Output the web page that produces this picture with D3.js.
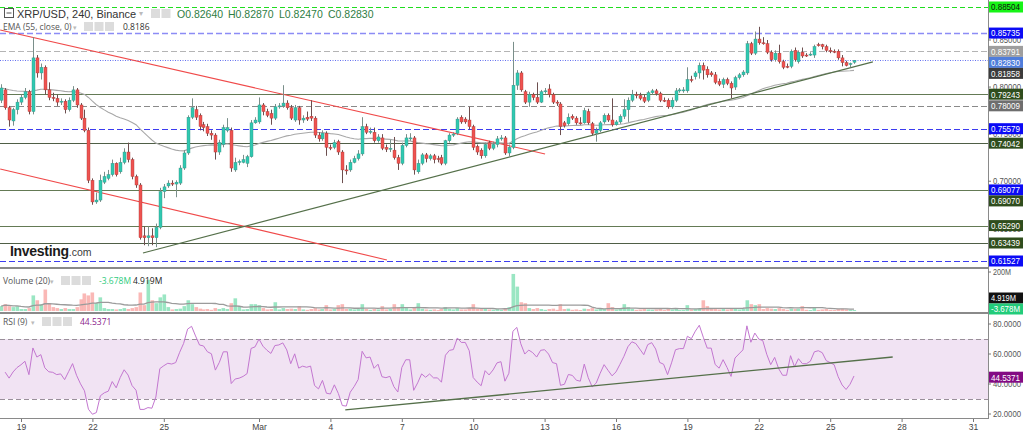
<!DOCTYPE html>
<html><head><meta charset="utf-8">
<script src="https://cdn.jsdelivr.net/npm/d3@7"></script>
<style>
html,body{margin:0;padding:0;background:#fff;overflow:hidden}
svg{display:block;font-family:"Open Sans","Liberation Sans",sans-serif}
</style></head><body>
<svg id="c" width="1024" height="432"></svg>
<script>
// ---------- DATA ----------
const symbolTitle = "XRP/USD, 240, Binance";
const lastOHLC = ["O0.82640", "H0.82870", "L0.82470", "C0.82830"];
const emaTitle = "EMA (55, close, 0)";
const emaValueText = "0.8186";
const volTitle = "Volume (20)";
const volValues = ["-3.678M", "4.919M"];
const rsiTitle = "RSI (9)";
const rsiValue = 44.5371;

// 4-hour candles [open, high, low, close], starting 2021-02-18 04:00
const candles = [
[0.786,0.803,0.783,0.799],[0.797,0.799,0.776,0.778],[0.778,0.780,0.758,0.765],[0.764,0.778,0.759,0.776],[0.776,0.787,0.771,0.784],
[0.784,0.792,0.781,0.789],[0.789,0.799,0.787,0.795],[0.795,0.797,0.771,0.774],[0.774,0.853,0.771,0.831],[0.831,0.834,0.810,0.815],
[0.815,0.825,0.808,0.821],[0.821,0.823,0.792,0.797],[0.797,0.805,0.786,0.789],[0.789,0.794,0.785,0.788],[0.788,0.792,0.780,0.784],
[0.784,0.788,0.781,0.785],[0.785,0.787,0.772,0.776],[0.776,0.789,0.774,0.786],[0.786,0.801,0.784,0.797],[0.797,0.799,0.778,0.781],
[0.781,0.783,0.765,0.767],[0.767,0.776,0.752,0.754],[0.754,0.757,0.698,0.701],[0.701,0.703,0.675,0.678],[0.678,0.688,0.676,0.680],
[0.680,0.707,0.678,0.701],[0.699,0.710,0.697,0.705],[0.703,0.712,0.701,0.707],[0.707,0.723,0.705,0.719],[0.719,0.720,0.705,0.707],
[0.710,0.725,0.708,0.720],[0.720,0.735,0.718,0.731],[0.731,0.741,0.720,0.723],[0.723,0.725,0.702,0.705],[0.705,0.707,0.693,0.696],
[0.696,0.698,0.638,0.640],[0.642,0.652,0.632,0.640],[0.640,0.652,0.631,0.642],[0.642,0.650,0.632,0.640],[0.640,0.655,0.630,0.651],
[0.651,0.693,0.649,0.689],[0.689,0.697,0.682,0.694],[0.695,0.701,0.693,0.698],[0.698,0.701,0.695,0.697],[0.697,0.701,0.683,0.699],
[0.698,0.717,0.696,0.714],[0.714,0.733,0.712,0.730],[0.730,0.770,0.728,0.768],[0.768,0.788,0.766,0.778],[0.776,0.780,0.765,0.768],
[0.770,0.772,0.754,0.758],[0.760,0.763,0.753,0.757],[0.758,0.761,0.748,0.751],[0.751,0.754,0.744,0.749],[0.749,0.751,0.723,0.731],
[0.731,0.744,0.728,0.741],[0.739,0.760,0.736,0.757],[0.754,0.767,0.752,0.757],[0.754,0.757,0.710,0.714],[0.712,0.725,0.710,0.720],
[0.720,0.723,0.717,0.721],[0.720,0.728,0.719,0.723],[0.719,0.728,0.715,0.726],[0.726,0.765,0.725,0.762],[0.762,0.768,0.761,0.765],
[0.763,0.789,0.761,0.781],[0.781,0.783,0.770,0.774],[0.774,0.777,0.768,0.770],[0.772,0.776,0.760,0.767],[0.767,0.782,0.765,0.779],
[0.779,0.783,0.777,0.780],[0.780,0.802,0.778,0.783],[0.783,0.786,0.776,0.778],[0.778,0.781,0.765,0.767],[0.765,0.781,0.763,0.778],
[0.778,0.780,0.760,0.765],[0.765,0.770,0.762,0.767],[0.768,0.774,0.764,0.766],[0.769,0.786,0.764,0.767],[0.767,0.769,0.746,0.749],
[0.749,0.752,0.742,0.745],[0.745,0.754,0.743,0.751],[0.751,0.753,0.727,0.736],[0.736,0.739,0.733,0.735],[0.736,0.744,0.734,0.741],
[0.742,0.744,0.728,0.731],[0.731,0.733,0.698,0.712],[0.712,0.717,0.707,0.711],[0.712,0.723,0.710,0.720],[0.720,0.727,0.719,0.724],
[0.724,0.733,0.722,0.729],[0.729,0.768,0.727,0.758],[0.758,0.761,0.750,0.752],[0.752,0.757,0.750,0.753],[0.752,0.757,0.741,0.743],
[0.743,0.750,0.741,0.747],[0.746,0.750,0.733,0.735],[0.736,0.739,0.731,0.734],[0.734,0.744,0.731,0.735],[0.733,0.747,0.723,0.725],
[0.725,0.728,0.712,0.719],[0.719,0.741,0.717,0.738],[0.738,0.750,0.736,0.746],[0.745,0.751,0.743,0.746],[0.746,0.748,0.707,0.712],
[0.710,0.723,0.708,0.719],[0.719,0.730,0.717,0.728],[0.728,0.730,0.720,0.724],[0.724,0.729,0.722,0.727],[0.727,0.729,0.719,0.723],
[0.724,0.727,0.720,0.723],[0.725,0.728,0.717,0.719],[0.719,0.744,0.717,0.743],[0.743,0.751,0.741,0.749],[0.749,0.752,0.747,0.750],
[0.751,0.768,0.749,0.766],[0.768,0.770,0.761,0.763],[0.766,0.768,0.761,0.763],[0.765,0.779,0.755,0.758],[0.758,0.760,0.733,0.736],
[0.737,0.739,0.728,0.731],[0.733,0.735,0.724,0.727],[0.727,0.741,0.725,0.739],[0.741,0.743,0.733,0.735],[0.735,0.742,0.733,0.739],
[0.739,0.748,0.736,0.745],[0.745,0.749,0.743,0.746],[0.746,0.748,0.728,0.730],[0.730,0.739,0.726,0.736],[0.736,0.848,0.734,0.802],
[0.802,0.818,0.797,0.815],[0.815,0.817,0.795,0.797],[0.795,0.797,0.782,0.784],[0.784,0.795,0.779,0.792],[0.792,0.794,0.786,0.789],
[0.789,0.805,0.782,0.784],[0.784,0.797,0.783,0.795],[0.795,0.799,0.793,0.796],[0.798,0.803,0.789,0.792],[0.792,0.794,0.782,0.784],
[0.784,0.786,0.780,0.783],[0.782,0.784,0.749,0.758],[0.762,0.764,0.757,0.759],[0.761,0.772,0.759,0.768],[0.769,0.771,0.765,0.767],
[0.767,0.769,0.760,0.762],[0.762,0.768,0.760,0.761],[0.762,0.778,0.761,0.775],[0.774,0.777,0.760,0.762],[0.761,0.763,0.749,0.751],
[0.751,0.757,0.742,0.754],[0.754,0.764,0.752,0.762],[0.763,0.772,0.761,0.770],[0.770,0.772,0.763,0.765],[0.765,0.788,0.758,0.760],
[0.760,0.765,0.759,0.763],[0.763,0.771,0.761,0.769],[0.769,0.787,0.766,0.776],[0.776,0.789,0.763,0.786],[0.786,0.797,0.784,0.792],
[0.792,0.795,0.788,0.791],[0.791,0.794,0.786,0.788],[0.789,0.792,0.783,0.785],[0.786,0.796,0.784,0.794],[0.794,0.798,0.792,0.796],
[0.796,0.798,0.791,0.793],[0.793,0.795,0.784,0.786],[0.786,0.789,0.784,0.785],[0.786,0.788,0.777,0.779],[0.779,0.789,0.777,0.786],
[0.786,0.799,0.784,0.796],[0.796,0.799,0.794,0.797],[0.797,0.800,0.794,0.797],[0.796,0.821,0.794,0.808],[0.808,0.812,0.805,0.807],
[0.811,0.817,0.808,0.815],[0.815,0.826,0.809,0.823],[0.823,0.826,0.808,0.818],[0.819,0.822,0.810,0.813],[0.815,0.817,0.811,0.813],
[0.813,0.816,0.803,0.805],[0.806,0.809,0.801,0.803],[0.803,0.810,0.799,0.808],[0.808,0.810,0.802,0.804],[0.804,0.806,0.788,0.799],
[0.800,0.812,0.797,0.810],[0.810,0.815,0.808,0.813],[0.813,0.818,0.811,0.816],[0.815,0.849,0.813,0.846],[0.846,0.848,0.834,0.836],
[0.836,0.859,0.834,0.851],[0.851,0.864,0.845,0.847],[0.847,0.853,0.845,0.846],[0.846,0.850,0.835,0.837],[0.837,0.839,0.827,0.829],
[0.829,0.839,0.827,0.836],[0.836,0.845,0.825,0.827],[0.827,0.829,0.819,0.821],[0.822,0.825,0.820,0.821],[0.822,0.840,0.820,0.838],
[0.839,0.842,0.827,0.829],[0.827,0.839,0.825,0.837],[0.837,0.842,0.831,0.833],[0.834,0.836,0.832,0.833],[0.834,0.837,0.833,0.835],
[0.834,0.845,0.831,0.843],[0.845,0.847,0.843,0.844],[0.845,0.846,0.840,0.843],[0.843,0.845,0.837,0.839],[0.839,0.842,0.836,0.838],
[0.838,0.840,0.836,0.837],[0.838,0.840,0.829,0.831],[0.831,0.834,0.822,0.826],[0.826,0.828,0.822,0.823],[0.824,0.826,0.821,0.825],
[0.8264,0.8287,0.8247,0.8283]
];

// volume per candle, millions
const volumes = [
25,35,25,20,25,10,10,15,80,55, 35,110,40,20,15,10,15,10,10,20,
60,90,80,95,40,70,15,10,10,8, 10,15,10,15,20,95,30,160,55,40,
70,85,20,8,10,12,25,55,35,20, 12,8,10,6,15,10,15,10,40,65,
25,8,10,35,35,30,15,8,10,45, 8,15,10,12,10,25,8,6,10,15,
8,10,30,8,10,30,35,10,12,8, 10,35,10,6,10,8,25,8,10,35,
20,35,15,8,20,40,12,8,6,8, 5,10,20,12,8,15,8,8,15,35,
12,10,12,8,6,10,6,15,20,190, 125,45,40,15,10,15,10,6,10,12,
6,35,10,12,6,8,5,12,10,15, 8,10,10,40,20,8,10,35,20,10,
6,8,10,8,6,8,10,5,12,8, 10,5,6,30,8,10,15,55,25,10,
15,8,10,8,15,12,8,10,55,35, 30,35,10,15,12,10,15,10,6,12,
10,12,25,6,5,20,6,8,10,6, 5,10,12,8,6,5
];

// horizontal levels (price)
const levelPrices = [0.88504, 0.85735, 0.83791, 0.82830, 0.79243, 0.78009, 0.75579, 0.74042, 0.69077, 0.65290, 0.63439, 0.61527];
const levelLabels = [0.88504, 0.85735, 0.83791, 0.82830, 0.81858, 0.79243, 0.78009, 0.75579, 0.74042, 0.69077, 0.69070, 0.65290, 0.63439, 0.61527];
const priceTicks = [0.85, 0.80, 0.75, 0.70, 0.65];
const volTicks = [200];
const rsiTicks = [80, 60, 40, 20];
const rsiBand = [30, 70];

// trend lines: [[time, value],[time, value]]
const redUpper = [[Date.UTC(2021,1,18,3), 0.8606], [Date.UTC(2021,2,13,0,30), 0.7290]];
const redLower = [[Date.UTC(2021,1,18,3), 0.7130], [Date.UTC(2021,2,6,9), 0.6164]];
const greenUp  = [[Date.UTC(2021,1,24,3), 0.6238], [Date.UTC(2021,2,26,19), 0.8267]];
const rsiTrend = [[Date.UTC(2021,2,4,15), 22.7], [Date.UTC(2021,2,27,15), 58.0]];

const dateTicks = [[1,19],[1,22],[1,25],[2,1],[2,4],[2,7],[2,10],[2,13],[2,16],[2,19],[2,22],[2,25],[2,28],[2,31]];

// ---------- CHART ----------
const svg = d3.select("#c");
const R = 988; // right edge of plot area
const x = d3.scaleUtc().domain([Date.UTC(2021,1,19), Date.UTC(2021,2,31)]).range([21, 973]);
const py = d3.scaleLinear().domain([0.61527, 0.88504]).range([261, 7]);
const vy = d3.scaleLinear().domain([0, 200]).range([311, 272]);
const ry = d3.scaleLinear().domain([20, 80]).range([414, 324]);

const t0 = Date.UTC(2021,1,18,4), H4 = 4*3600*1000;
const data = candles.map((c,i)=>({t:t0+i*H4, o:c[0], h:c[1], l:c[2], c:c[3], v: volumes[i] ?? 5}));

// indicators
const k = 2/56; let e = data[0].c;
const ema = data.map((d,i)=>{ if(i>0) e = d.c*k + e*(1-k); return e; });
const volMA = data.map((d,i)=>{ const s = data.slice(Math.max(0,i-19), i+1); return d3.mean(s, q=>q.v); });
const n = 9;
let ag = 0, al = 0;
for (let i=1;i<=n;i++){ const ch = data[i].c - data[i-1].c; ag += Math.max(ch,0)/n; al += Math.max(-ch,0)/n; }
const rsi = [];
for (let i=1;i<data.length;i++){
  const ch = data[i].c - data[i-1].c;
  ag = (ag*(n-1) + Math.max(ch,0))/n; al = (al*(n-1) + Math.max(-ch,0))/n;
  rsi.push({t:data[i].t, v: al===0?100:100 - 100/(1+ag/al)});
}

const defs = svg.append("defs");
defs.append("clipPath").attr("id","cm").append("rect").attr("x",0).attr("y",0).attr("width",R).attr("height",267);
defs.append("clipPath").attr("id","cv").append("rect").attr("x",0).attr("y",269).attr("width",R).attr("height",43);
defs.append("clipPath").attr("id","cr").append("rect").attr("x",0).attr("y",314).attr("width",R).attr("height",104);

// ----- main panel -----
const gm = svg.append("g").attr("clip-path","url(#cm)");
const lvStyle = [
 {c:"#1fdc1f", d:"5,3", w:1},
 {c:"#8c8cf5", d:"6,3", w:1.6},
 {c:"#b4b4b4", d:"6,3", w:1.2},
 {c:"#6470f0", d:"1,1.5", w:1},
 {c:"#647a55", d:null, w:1.2},
 {c:"#8a8a8a", d:"6,3", w:1.1},
 {c:"#3c3cf0", d:"6,3", w:1.2},
 {c:"#4f5f46", d:null, w:1.2},
 {c:"#647a55", d:null, w:1.2},
 {c:"#647a55", d:null, w:1.2},
 {c:"#4f5f46", d:null, w:1.2},
 {c:"#3c3cf0", d:"6,3", w:1.2}
];
levelPrices.forEach((p,i)=>{
  const s = lvStyle[i];
  gm.append("line").attr("x1",0).attr("x2",R).attr("y1",Math.round(py(p))+0.5).attr("y2",Math.round(py(p))+0.5)
    .attr("stroke",s.c).attr("stroke-width",s.w).attr("stroke-dasharray",s.d);
});

const tl = (g, pts, yS, col, w) => g.append("line")
  .attr("x1",x(pts[0][0])).attr("y1",yS(pts[0][1])).attr("x2",x(pts[1][0])).attr("y2",yS(pts[1][1]))
  .attr("stroke",col).attr("stroke-width",w);
tl(gm, redUpper, py, "#f04a4a", 1.1);
tl(gm, redLower, py, "#f04a4a", 1.1);

// EMA
gm.append("path").datum(data).attr("fill","none").attr("stroke","#a8a8a8").attr("stroke-width",1.1)
  .attr("d", d3.line().x(d=>x(d.t)).y((d,i)=>py(ema[i])));

tl(gm, greenUp, py, "#55704a", 1.2);

// candles
const up = "#2fc9b1", upW = "#7a8f8a", dn = "#ef5350", dnW = "#6d4f4f";
gm.selectAll("line.wick").data(data).join("line").attr("class","wick")
  .attr("x1",d=>Math.round(x(d.t))+0.5).attr("x2",d=>Math.round(x(d.t))+0.5)
  .attr("y1",d=>py(d.h)).attr("y2",d=>py(d.l))
  .attr("stroke",d=>d.c>=d.o?upW:dnW).attr("stroke-width",1);
gm.selectAll("rect.body").data(data).join("rect").attr("class","body")
  .attr("x",d=>Math.round(x(d.t))-1).attr("width",3)
  .attr("y",d=>py(Math.max(d.o,d.c))).attr("height",d=>Math.max(1, Math.abs(py(d.o)-py(d.c))))
  .attr("fill",d=>d.c>=d.o?up:dn).attr("stroke",d=>d.c>=d.o?"#3a8f83":"#a83a38").attr("stroke-width",0.4);

// logo
const logo = svg.append("text").attr("x",10).attr("y",256).attr("font-family","Liberation Sans, Arial, sans-serif");
logo.append("tspan").attr("font-size",14).attr("font-weight","bold").attr("fill","#1b1b1b").attr("letter-spacing",-0.3).text("Investing");
logo.append("tspan").attr("font-size",10.5).attr("fill","#3a3a3a").text(".com");

// ----- volume panel -----
const gv = svg.append("g").attr("clip-path","url(#cv)");
gv.selectAll("rect").data(data).join("rect")
  .attr("x",d=>Math.round(x(d.t))-1.5).attr("width",3.6)
  .attr("y",d=>vy(d.v)).attr("height",d=>vy(0)-vy(d.v))
  .attr("fill",d=>d.c>=d.o?"#8fe3bd":"#f9b0ae").attr("opacity",0.9);
gv.append("path").datum(data).attr("fill","none").attr("stroke","#9b9b9b").attr("stroke-width",1.3)
  .attr("d", d3.line().x(d=>x(d.t)).y((d,i)=>vy(volMA[i])));

// ----- RSI panel -----
const gr = svg.append("g").attr("clip-path","url(#cr)");
gr.append("rect").attr("x",0).attr("width",R).attr("y",ry(rsiBand[1])).attr("height",ry(rsiBand[0])-ry(rsiBand[1])).attr("fill","#f1e3f3");
rsiBand.forEach(v=>gr.append("line").attr("x1",0).attr("x2",R).attr("y1",Math.round(ry(v))+0.5).attr("y2",Math.round(ry(v))+0.5)
  .attr("stroke","#9a8f9a").attr("stroke-dasharray","5,3"));
gr.append("path").datum(rsi).attr("fill","none").attr("stroke","#c377d0").attr("stroke-width",1)
  .attr("d", d3.line().x(d=>x(d.t)).y(d=>ry(d.v)));
tl(gr, rsiTrend, ry, "#55704a", 1.3);

// panel separators & axes
svg.append("line").attr("x1",0).attr("x2",R).attr("y1",268).attr("y2",268).attr("stroke","#8a8a8a").attr("stroke-width",2);
svg.append("line").attr("x1",0).attr("x2",R).attr("y1",313).attr("y2",313).attr("stroke","#8a8a8a").attr("stroke-width",2);
svg.append("line").attr("x1",0).attr("x2",R).attr("y1",418.5).attr("y2",418.5).attr("stroke","#8a8a8a").attr("stroke-width",1);
svg.append("line").attr("x1",R+0.5).attr("x2",R+0.5).attr("y1",0).attr("y2",419).attr("stroke","#8a8a8a").attr("stroke-width",1);

// x axis
const xa = svg.append("g").attr("transform","translate(0,419)")
  .call(d3.axisBottom(x).tickValues(dateTicks.map(d=>new Date(Date.UTC(2021,d[0],d[1]))))
    .tickFormat(d=>d.getUTCDate()===1 ? "Mar" : d.getUTCDate()).tickSize(3).tickPadding(2));
xa.select(".domain").remove();
xa.selectAll("line").attr("stroke","#777");
xa.selectAll("text").attr("fill","#444").attr("font-size",8.5).attr("font-family","Liberation Sans Narrow, Liberation Sans, sans-serif");

// right axis tick labels
const tickFont = "Liberation Sans Narrow, Liberation Sans, sans-serif";
function rTick(yv, txt){
  svg.append("line").attr("x1",R).attr("x2",R+3).attr("y1",yv).attr("y2",yv).attr("stroke","#777");
  svg.append("text").attr("x",R+5).attr("y",yv+3.2).attr("font-size",9).attr("fill","#555").attr("font-family",tickFont)
    .attr("textLength", txt.length>4 ? 28 : 18).attr("lengthAdjust","spacingAndGlyphs").text(txt);
}
priceTicks.forEach(p=>rTick(py(p), p.toFixed(5)));
volTicks.forEach(v=>rTick(vy(v), v+"M"));
rsiTicks.forEach(v=>rTick(ry(v), v.toFixed(4)));

// price label boxes
const boxStyle = [
 ["#17f417","#111"],["#0b0bf5","#fff"],["#9e9e9e","#fff"],["#4f7ddb","#fff"],["#3b3b3b","#fff"],["#2f4d1d","#fff"],
 ["#6e6e6e","#fff"],["#0b0bf5","#fff"],["#2f4d1d","#fff"],["#0b0bf5","#fff"],["#2f4d1d","#fff"],["#2f4d1d","#fff"],
 ["#2f4d1d","#fff"],["#0b0bf5","#fff"]
];
function box(yv, txt, bg, fg){
  svg.append("rect").attr("x",R+1).attr("y",yv-5.5).attr("width",34).attr("height",11).attr("fill",bg);
  svg.append("text").attr("x",R+3).attr("y",yv+3.4).attr("font-size",9.5).attr("fill",fg).attr("font-family",tickFont)
    .attr("textLength",txt.length>6?29:25).attr("lengthAdjust","spacingAndGlyphs").text(txt);
}
let prevY = -100;
levelLabels.forEach((p,i)=>{
  let yv = py(p);
  if (yv - prevY < 11) yv = prevY + 11;
  prevY = yv;
  box(yv, p.toFixed(5), boxStyle[i][0], boxStyle[i][1]);
});
box(298, volValues[1], "#111", "#fff");
box(309, volValues[0], "#22cc7a", "#fff");
box(ry(rsiValue), rsiValue.toFixed(4), "#830a83", "#fff");

// ----- legends -----
const legFont = "Liberation Sans, Arial, sans-serif";
function icons(x0, y0, cnt){
  for (let j=0;j<cnt;j++) svg.append("rect").attr("x",x0+j*10.5).attr("y",y0).attr("width",9).attr("height",9).attr("fill","#dcdcdc");
}
// title row
svg.append("rect").attr("x",4.5).attr("y",8.5).attr("width",9).attr("height",9).attr("fill","none").attr("stroke","#555");
svg.append("line").attr("x1",6.5).attr("x2",11.5).attr("y1",13).attr("y2",13).attr("stroke","#555");
svg.append("text").attr("x",17).attr("y",17.5).attr("font-size",11).attr("font-family",legFont).attr("fill","#333").text(symbolTitle);
svg.append("text").attr("x",139).attr("y",16).attr("font-size",8).attr("fill","#bbb").text("▾");
icons(151,9,2);
[177,228,279,328].forEach((xx,i)=>svg.append("text").attr("x",xx).attr("y",17.5).attr("font-size",10.5)
  .attr("font-family",legFont).attr("fill","#2e7d43").text(lastOHLC[i]));
// EMA row
svg.append("text").attr("x",3).attr("y",30).attr("font-size",8.5).attr("fill","#555").text(emaTitle);
svg.append("text").attr("x",73).attr("y",29.5).attr("font-size",7).attr("fill","#bbb").text("▾");
icons(84,22,3);
svg.append("text").attr("x",123).attr("y",30).attr("font-size",8.5).attr("fill","#333").text(emaValueText);
// volume row
svg.append("text").attr("x",3).attr("y",284).attr("font-size",8.5).attr("fill","#555").text(volTitle);
svg.append("text").attr("x",50).attr("y",283.5).attr("font-size",7).attr("fill","#bbb").text("▾");
icons(61,276,3);
svg.append("text").attr("x",99).attr("y",284).attr("font-size",8.5).attr("fill","#2ecc80").text(volValues[0]);
svg.append("text").attr("x",133).attr("y",284).attr("font-size",8.5).attr("fill","#222").text(volValues[1]);
// rsi row
svg.append("text").attr("x",3).attr("y",325).attr("font-size",8.5).attr("fill","#555").text(rsiTitle);
svg.append("text").attr("x",31).attr("y",324.5).attr("font-size",7).attr("fill","#bbb").text("▾");
icons(42,317,3);
svg.append("text").attr("x",80).attr("y",325).attr("font-size",8.5).attr("fill","#8b1a8b").text(rsiValue.toFixed(4));
</script>
</body></html>
